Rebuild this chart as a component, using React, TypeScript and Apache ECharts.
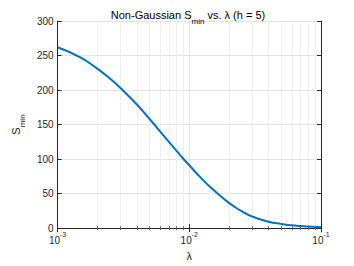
import React, { useEffect, useRef } from "react";
import * as echarts from "echarts";

const lambdaValues = [0.001, 0.0015, 0.002, 0.0025, 0.003, 0.004, 0.005, 0.006, 0.007, 0.008, 0.009, 0.01, 0.012, 0.015, 0.02, 0.025, 0.03, 0.04, 0.05, 0.06, 0.07, 0.08, 0.1];
const sMinValues = [262, 247, 231, 216.5, 203, 179, 158, 140, 125, 112, 100.5, 91, 74.5, 56.5, 36.5, 24.5, 16.8, 9.3, 6, 4, 2.9, 2.2, 1.3];
const yTicks = [0, 50, 100, 150, 200, 250, 300];

const FONT = "'Liberation Sans', Arial, Helvetica, sans-serif";
const AX = "#262626";

export default function App() {
  const ref = useRef<HTMLDivElement>(null);
  useEffect(() => {
    if (!ref.current) return;
    const chart = echarts.init(ref.current, undefined, { renderer: "svg" });
    const data = lambdaValues.map((x, i) => [x, sMinValues[i]]);
    const xLabelRich = {
      b: { fontSize: 10, color: AX, fontFamily: FONT, lineHeight: 14, verticalAlign: "bottom" },
      s: { fontSize: 7, color: AX, fontFamily: FONT, lineHeight: 14, verticalAlign: "top" },
    };
    const commonX = {
      type: "log",
      logBase: 10,
      min: 0.001,
      max: 0.1,
      axisLine: { show: true, lineStyle: { color: AX, width: 1 } },
      axisTick: { show: true, inside: true, length: 4, lineStyle: { color: AX } },
      minorTick: { show: true, splitNumber: 9, length: 2, lineStyle: { color: "#666666" } },
    };
    const commonY = {
      type: "value",
      min: 0,
      max: 300,
      interval: 50,
      axisLine: { show: true, lineStyle: { color: AX, width: 1 } },
      axisTick: { show: true, inside: true, length: 4, lineStyle: { color: AX } },
    };
    chart.setOption({
      animation: false,
      backgroundColor: "#ffffff",
      title: {
        text: "{a|Non-Gaussian S}{s|min}{a| vs. λ (h = 5)}",
        left: 183,
        textAlign: "center",
        top: 2,
        textStyle: {
          fontWeight: "normal",
          rich: {
            a: { fontSize: 11, fontWeight: "normal", color: "#000", fontFamily: FONT, lineHeight: 18, verticalAlign: "top", padding: [2, 0, 0, 0] },
            s: { fontSize: 8, fontWeight: "normal", color: "#000", fontFamily: FONT, lineHeight: 18, verticalAlign: "bottom" },
          },
        },
      },
      grid: { left: 46, right: 33, top: 21, bottom: 30, containLabel: false },
      xAxis: [
        {
          ...commonX,
          position: "bottom",
          splitLine: { show: true, lineStyle: { color: "#e3e3e3", width: 1 } },
          minorSplitLine: { show: true, lineStyle: { color: "#eeeeee", width: 1 } },
          axisLabel: {
            show: true,
            margin: 3,
            formatter: (v: number) => `{b|10}{s|${Math.round(Math.log10(v))}}`,
            rich: xLabelRich,
          },
          name: "λ",
          nameLocation: "middle",
          nameGap: 17,
          nameTextStyle: { fontSize: 11, color: AX, fontFamily: FONT },
        },
        {
          ...commonX,
          position: "top",
          splitLine: { show: false },
          axisLabel: { show: false },
        },
      ],
      yAxis: [
        {
          ...commonY,
          position: "left",
          splitLine: { show: true, lineStyle: { color: "#e3e3e3", width: 1 } },
          axisLabel: {
            show: true,
            margin: 4,
            fontSize: 10,
            color: AX,
            fontFamily: FONT,
            formatter: (v: number) => (yTicks.includes(v) ? String(v) : ""),
          },
          name: "{a|S}{s|min}",
          nameLocation: "middle",
          nameGap: 23,
          nameRotate: 90,
          nameTextStyle: {
            rich: {
              a: { fontSize: 11, color: AX, fontFamily: FONT, lineHeight: 18, verticalAlign: "top", padding: [2, 0, 0, 0] },
              s: { fontSize: 8, color: AX, fontFamily: FONT, lineHeight: 18, verticalAlign: "bottom" },
            },
          },
        },
        {
          ...commonY,
          position: "right",
          splitLine: { show: false },
          axisLabel: { show: false },
        },
      ],
      series: [
        {
          type: "line",
          xAxisIndex: 0,
          yAxisIndex: 0,
          data,
          smooth: 0.5,
          showSymbol: false,
          symbol: "none",
          lineStyle: { color: "#0072BD", width: 2 },
        },
      ],
    });
    return () => chart.dispose();
  }, []);
  return <div ref={ref} style={{ width: 354, height: 266, marginLeft: -8, marginTop: -8 }} />;
}
